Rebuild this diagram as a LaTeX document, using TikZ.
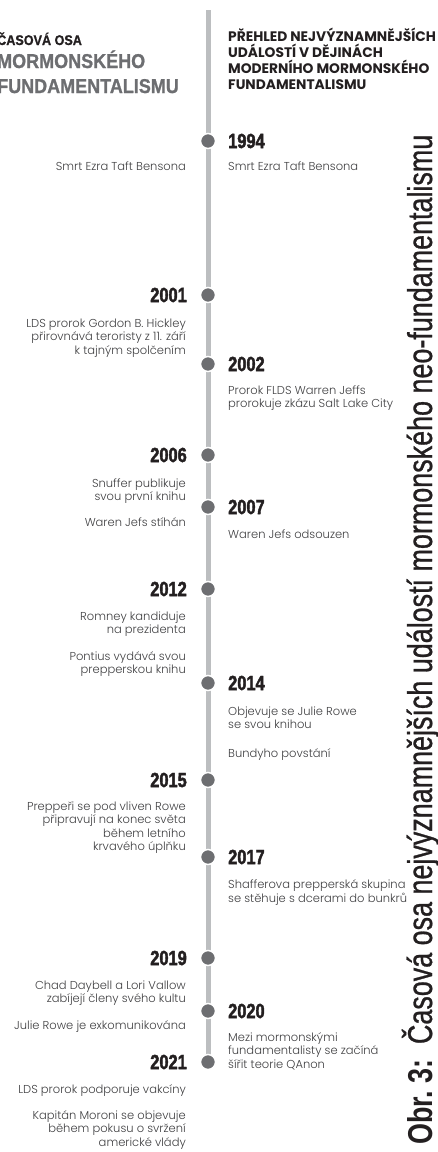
\documentclass[tikz,border=0pt]{standalone}
\usepackage{fontspec}
\usepackage{graphicx}
\setmainfont{Poppins}
\IfFontExistsTF{Poppins Light}{\newfontfamily\bodyfont{Poppins Light}}{\newfontfamily\bodyfont{Poppins}}
\newfontfamily\headfont{Poppins}
\newfontfamily\yearfont{Liberation Sans Bold}[FakeStretch=0.8,FakeBold=2]
\newfontfamily\condfont{Liberation Sans Bold}[FakeStretch=0.9,FakeBold=1]
\newfontfamily\capfont{Liberation Sans}[FakeStretch=0.78,FakeBold=0.8]
\newfontfamily\capboldfont{Liberation Sans Bold}[FakeStretch=0.78]
\definecolor{linegray}{HTML}{BCBEC0}
\definecolor{dotgray}{HTML}{6D6E71}
\definecolor{inkblack}{HTML}{231F20}
\definecolor{bodygray}{HTML}{3F3F41}
\definecolor{headgray}{HTML}{6D6E71}
\tikzset{
  axisline/.style={draw=linegray, line width=5pt},
  evdot/.style={circle, fill=dotgray, draw=white, line width=1.5pt, minimum size=15pt, inner sep=0pt},
  yearR/.style={anchor=west, inner sep=0pt, text=inkblack, font=\yearfont\fontsize{20.5}{22}\selectfont},
  yearL/.style={anchor=east, inner sep=0pt, text=inkblack, font=\yearfont\fontsize{20.5}{22}\selectfont},
  bodyR/.style={anchor=base west, align=left, inner sep=0pt, text=bodygray, font=\bodyfont\fontsize{11.5}{13.5}\selectfont},
  bodyL/.style={anchor=base east, align=right, inner sep=0pt, text=bodygray, font=\bodyfont\fontsize{11.5}{13.5}\selectfont},
  headR/.style={anchor=base west, align=left, inner sep=0pt, text=inkblack, font=\headfont\bfseries\fontsize{13.8}{16}\selectfont},
  headL/.style={anchor=base west, inner sep=0pt, font=\condfont\fontsize{20}{24}\selectfont},
  caption/.style={rotate=90, anchor=base west, inner sep=0pt, text=inkblack}
}
\begin{document}
\begin{tikzpicture}[x=1pt,y=-1pt]
\useasboundingbox (0,0) rectangle (438,1152);
% axis
\coordinate (top) at (208,10);
\coordinate (bottom) at (208,1062);
\draw[axisline] (top) -- (bottom);
% dots
\node[evdot] (d1994) at (208,141) {};
\node[evdot] (d2001) at (208,295) {};
\node[evdot] (d2002) at (208,364) {};
\node[evdot] (d2006) at (208,455) {};
\node[evdot] (d2007) at (208,507) {};
\node[evdot] (d2012) at (208,589) {};
\node[evdot] (d2014) at (208,683) {};
\node[evdot] (d2015) at (208,780) {};
\node[evdot] (d2017) at (208,857) {};
\node[evdot] (d2019) at (208,958) {};
\node[evdot] (d2020) at (208,1011) {};
\node[evdot] (d2021) at (208,1062) {};
% headers
\node[headL, text=inkblack, font=\condfont\fontsize{14}{16}\selectfont] (hl1) at (-3,45) {ČASOVÁ OSA};
\node[headL, text=headgray] (hl2) at (-3,68) {MORMONSKÉHO};
\node[headL, text=headgray] (hl3) at (-3,93) {FUNDAMENTALISMU};
\node[headR] (hr) at (228,89) {PŘEHLED NEJVÝZNAMNĚJŠÍCH\\UDÁLOSTÍ V DĚJINÁCH\\MODERNÍHO MORMONSKÉHO\\FUNDAMENTALISMU};
% years right
\node[yearR] (y1994) at (228,141) {1994};
\node[yearR] (y2002) at (228,364) {2002};
\node[yearR] (y2007) at (228,507) {2007};
\node[yearR] (y2014) at (228,683) {2014};
\node[yearR] (y2017) at (228,857) {2017};
\node[yearR] (y2020) at (228,1011) {2020};
% years left
\node[yearL] (y2001) at (187,295) {2001};
\node[yearL] (y2006) at (187,455) {2006};
\node[yearL] (y2012) at (187,589) {2012};
\node[yearL] (y2015) at (187,780) {2015};
\node[yearL] (y2019) at (187,958) {2019};
\node[yearL] (y2021) at (187,1062) {2021};
% right bodies (anchor = baseline of last line)
\node[bodyR] (r1994) at (228,170) {Smrt Ezra Taft Bensona};
\node[bodyR] (r2002) at (228,407.5) {Prorok FLDS Warren Jeffs\\prorokuje zkázu Salt Lake City};
\node[bodyR] (r2007) at (228,538) {Waren Jefs odsouzen};
\node[bodyR] (r2014a) at (228,728.5) {Objevuje se Julie Rowe\\se svou knihou};
\node[bodyR] (r2014b) at (228,757) {Bundyho povstání};
\node[bodyR] (r2017) at (228,902) {Shafferova prepperská skupina\\se stěhuje s dcerami do bunkrů};
\node[bodyR] (r2020) at (228,1068) {Mezi mormonskými\\fundamentalisty se začíná\\šířit teorie QAnon};
% left bodies (anchor = baseline of last line)
\node[bodyL] (l1994) at (186,170) {Smrt Ezra Taft Bensona};
\node[bodyL] (l2001) at (186,354) {LDS prorok Gordon B. Hickley\\přirovnává teroristy z 11. září\\k tajným spolčením};
\node[bodyL] (l2006a) at (186,500.5) {Snuffer publikuje\\svou první knihu};
\node[bodyL] (l2006b) at (186,526) {Waren Jefs stíhán};
\node[bodyL] (l2012a) at (186,633.5) {Romney kandiduje\\na prezidenta};
\node[bodyL] (l2012b) at (186,673.5) {Pontius vydává svou\\prepperskou knihu};
\node[bodyL] (l2015) at (186,850.5) {Preppeři se pod vliven Rowe\\připravují na konec světa\\během letního\\krvavého úplňku};
\node[bodyL] (l2019a) at (186,1002.5) {Chad Daybell a Lori Vallow\\zabíjejí členy svého kultu};
\node[bodyL] (l2019b) at (186,1029) {Julie Rowe je exkomunikována};
\node[bodyL] (l2021a) at (186,1093) {LDS prorok podporuje vakcíny};
\node[bodyL] (l2021b) at (186,1146) {Kapitán Moroni se objevuje\\během pokusu o svržení\\americké vlády};
% caption
\node[caption] (cap) at (432,1145) {\resizebox{1010pt}{!}{\capboldfont Obr.~3:\hspace{0.45em}\capfont Časová osa nejvýznamnějších událostí mormonského neo-fundamentalismu}};
\end{tikzpicture}
\end{document}
